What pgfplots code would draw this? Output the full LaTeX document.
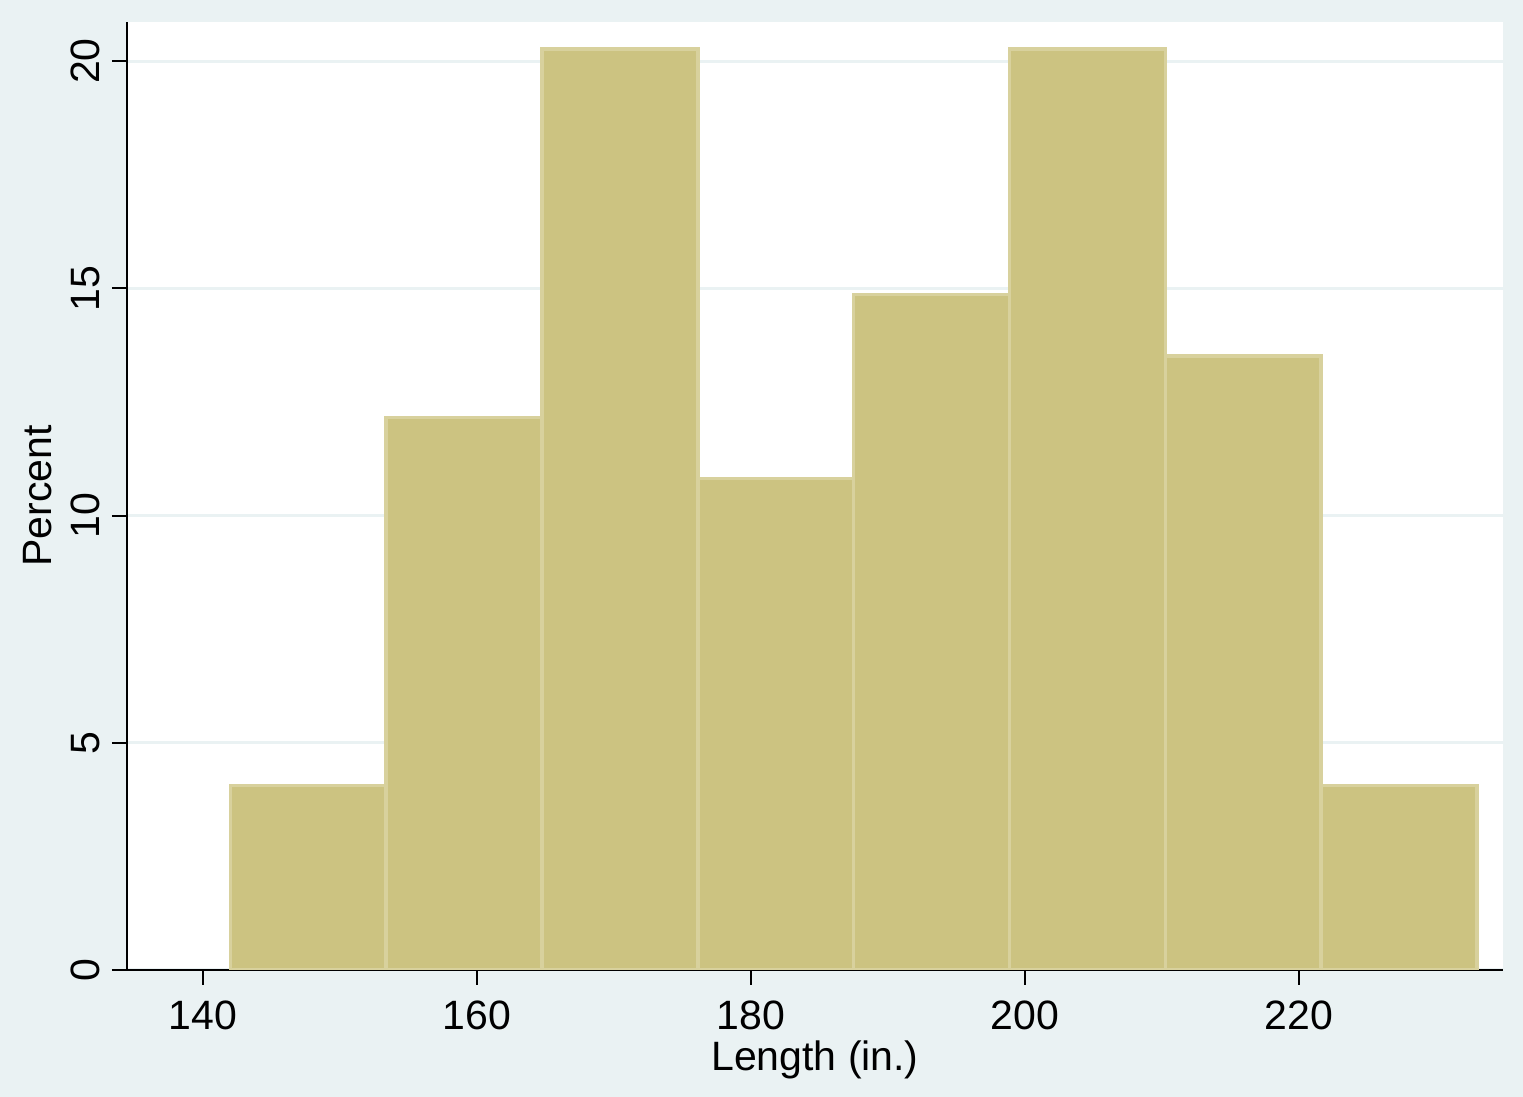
\documentclass[border=0pt]{standalone}
\usepackage{fontspec}
\setmainfont{Liberation Sans}
\usepackage{pgfplots}
\pgfplotsset{compat=1.18}
\definecolor{bgcol}{RGB}{234,242,243}
\definecolor{barfill}{RGB}{204,195,129}
\definecolor{baredge}{RGB}{216,209,157}
\begin{document}
\begin{tikzpicture}
\path[use as bounding box] (0,0) rectangle (761.5pt,548.5pt);
\fill[bgcol] (0,0) rectangle (761.5pt,548.5pt);
\begin{axis}[
  at={(63.5pt,63.5pt)}, anchor=south west,
  scale only axis, width=688pt, height=474pt,
  xmin=134.45, xmax=234.9, ymin=0, ymax=20.86,
  axis lines=left, axis line style={-, black, line width=1pt},
  axis background/.style={fill=white},
  xtick={140,160,180,200,220}, ytick={0,5,10,15,20},
  tick align=outside, major tick length=7.5pt,
  tick style={black, line width=1pt},
  ymajorgrids, major grid style={bgcol, line width=1.5pt},
  /pgf/number format/assume math mode=true,
  every tick label/.append style={font=\fontsize{20.5}{24}\selectfont},
  x tick label style={anchor=north, inner sep=0pt, yshift=-7.5pt},
  y tick label style={xshift=-6pt, rotate=90, anchor=south, inner sep=0pt},
  xlabel={Length (in.)}, ylabel={Percent},
  every axis x label/.style={at={(axis description cs:0.5,-0.1055)}, anchor=base, inner sep=0pt, font=\fontsize{20.5}{24}\selectfont},
  every axis y label/.style={at={(axis description cs:-0.0545,0.5)}, rotate=90, anchor=south, inner sep=0pt, font=\fontsize{20.5}{24}\selectfont},
]
\addplot[ybar interval, fill=barfill, draw=baredge, line width=1.75pt] coordinates {
(142,4.0541) (153.375,12.1622) (164.75,20.2703) (176.125,10.8108) (187.5,14.8649) (198.875,20.2703) (210.25,13.5135) (221.625,4.0541) (233,4.0541)
};
\end{axis}
\end{tikzpicture}
\end{document}
